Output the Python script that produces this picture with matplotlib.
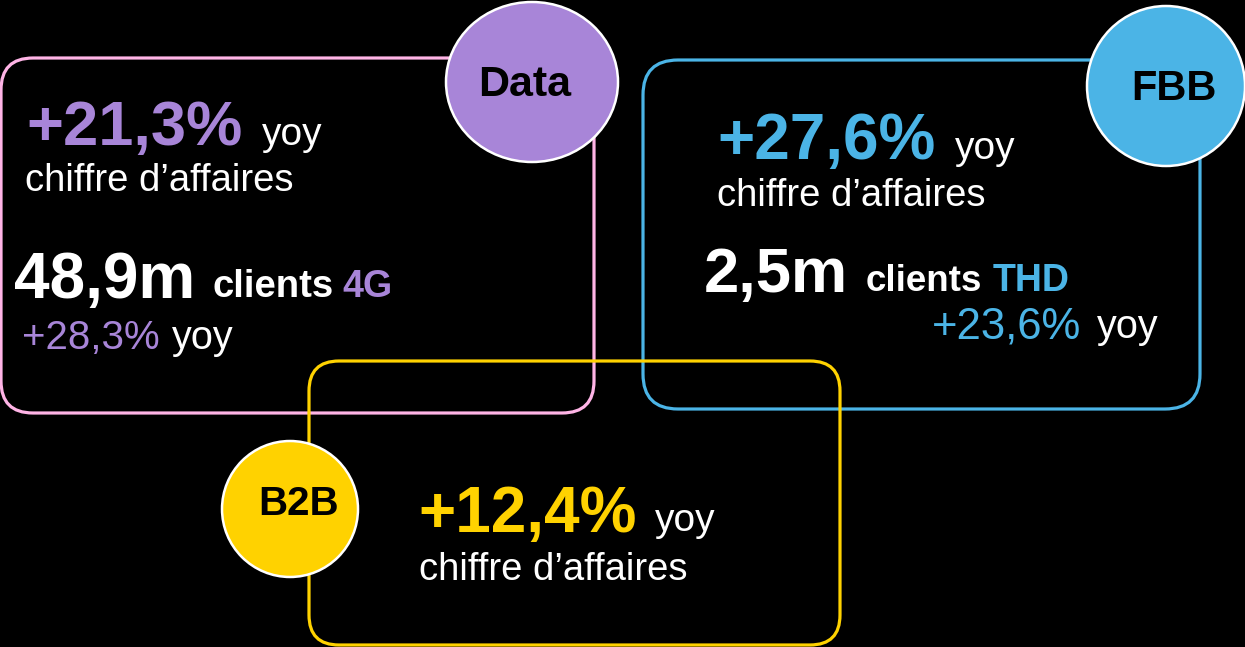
import matplotlib
matplotlib.use("Agg")
import matplotlib.pyplot as plt
from matplotlib.patches import FancyBboxPatch, Ellipse

plt.rcParams['font.family'] = ['Liberation Sans', 'DejaVu Sans']

# ---- content ----
segments = ["Data", "FBB", "B2B"]
revenue_growth = ["+21,3%", "+27,6%", "+12,4%"]
revenue_label = "chiffre d\u2019affaires"
yoy = "yoy"
clients_values = ["48,9m", "2,5m"]
clients_types = ["4G", "THD"]
clients_growth = ["+28,3%", "+23,6%"]

PURPLE = "#A885D8"
BLUE = "#4BB4E6"
YELLOW = "#FFD200"
PINK = "#FFB4E6"
WHITE = "white"

W, H = 1245, 647
fig = plt.figure(figsize=(W / 100, H / 100), dpi=100, facecolor="black")
ax = fig.add_axes([0, 0, 1, 1])
ax.set_xlim(0, W)
ax.set_ylim(H, 0)
ax.axis("off")
ax.set_facecolor("black")

def box(x0, y0, x1, y1, color, r=30, z=1):
    p = FancyBboxPatch((x0, y0), x1 - x0, y1 - y0,
                       boxstyle=f"round,pad=0,rounding_size={r}",
                       fill=False, edgecolor=color, linewidth=2.3, zorder=z)
    ax.add_patch(p)

def bubble(cx, cy, w, h, color):
    e = Ellipse((cx, cy), w, h, facecolor=color, edgecolor="white", linewidth=1.8, zorder=5)
    ax.add_patch(e)

def txt(x, y, s, size, color, bold=False, ha="left"):
    ax.text(x, y, s, fontsize=size, color=color, fontweight="bold" if bold else "normal",
            ha=ha, va="baseline", zorder=6)

# boxes
box(1, 58, 594, 413, PINK, r=32, z=1)
box(643, 60, 1200, 409, BLUE, r=35, z=1)
box(309, 361, 840, 645, YELLOW, r=30, z=2)

# bubbles
bubble(532, 82, 172, 160, PURPLE)
bubble(1166, 86, 158, 160, BLUE)
bubble(290, 509, 136, 136, YELLOW)
txt(525, 96, segments[0], 31, "black", bold=True, ha="center")
txt(1174, 100, segments[1], 30, "black", bold=True, ha="center")
txt(299, 515, segments[2], 29, "black", bold=True, ha="center")

# Data panel
txt(26, 145, revenue_growth[0], 45.5, PURPLE, bold=True)
txt(262, 145, yoy, 28, WHITE)
txt(25, 191, revenue_label, 27.5, WHITE)
txt(14, 298, clients_values[0], 46, WHITE, bold=True)
txt(213, 297, "clients", 27.5, WHITE, bold=True)
txt(342, 297, clients_types[0], 27, PURPLE, bold=True)
txt(22, 349, clients_growth[0], 29, PURPLE)
txt(172, 349, yoy, 28.5, WHITE)

# FBB panel
txt(717, 159, revenue_growth[1], 46, BLUE, bold=True)
txt(955, 159, yoy, 28, WHITE)
txt(717, 206, revenue_label, 27.5, WHITE)
txt(704, 292, clients_values[1], 45.5, WHITE, bold=True)
txt(866, 291, "clients", 26.5, WHITE, bold=True)
txt(993, 291, clients_types[1], 27, BLUE, bold=True)
txt(932, 338, clients_growth[1], 31.5, BLUE)
txt(1097, 338, yoy, 28.5, WHITE)

# B2B panel
txt(418, 532, revenue_growth[2], 46, YELLOW, bold=True)
txt(655, 531, yoy, 28, WHITE)
txt(419, 580, revenue_label, 27.5, WHITE)

fig.savefig("out.png", dpi=100, facecolor="black")
